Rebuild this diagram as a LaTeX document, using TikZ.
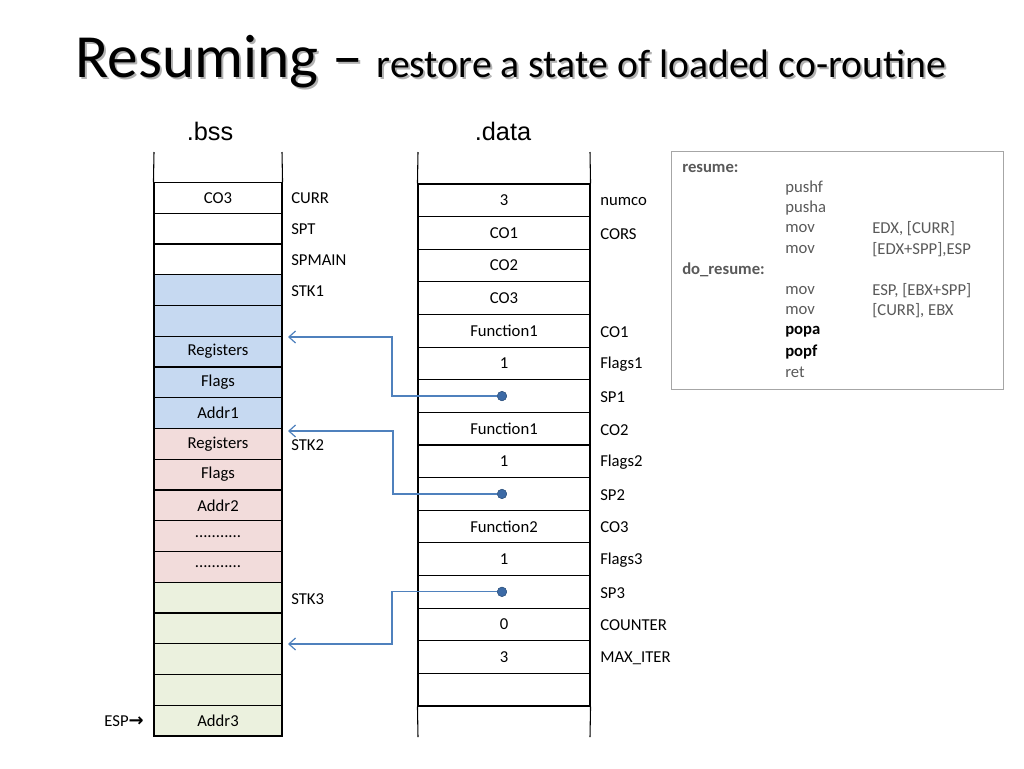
\documentclass[tikz,border=0pt]{standalone}
\usepackage{fontspec}
\setmainfont{Carlito}
\newfontfamily\arialf{Liberation Sans}
\newfontfamily\symf{DejaVu Sans}
\usetikzlibrary{arrows.meta}
\definecolor{bluefill}{HTML}{C6D9F1}
\definecolor{pinkfill}{HTML}{F2DCDB}
\definecolor{greenfill}{HTML}{EBF1DE}
\definecolor{connc}{HTML}{4F81BD}
\definecolor{dotc}{HTML}{3C6AA6}
\definecolor{codegray}{HTML}{595959}
\definecolor{boxborder}{HTML}{A6A6A6}
\begin{document}
\begin{tikzpicture}[x=0.75pt,y=-0.75pt,
  font=\fontsize{12.5}{15}\selectfont,
  bcell/.style={draw=black, line width=0.8pt, minimum width=96pt, minimum height=23.06pt, inner sep=0pt, anchor=center},
  dcell/.style={draw=black, line width=0.8pt, minimum width=129pt, minimum height=24.47pt, inner sep=0pt, anchor=center},
  colline/.style={draw=black, line width=0.8pt},
  lab/.style={anchor=west, inner sep=0pt},
  code/.style={anchor=west, inner sep=0pt, text=codegray},
  codelab/.style={anchor=west, inner sep=0pt, text=codegray, font=\fontsize{12.5}{15}\selectfont\bfseries},
  conn/.style={draw=connc, line width=0.9pt, -{Straight Barb[length=5pt,width=9pt]}},
  spdot/.style={circle, fill=dotc, draw=connc!70!black, line width=0.4pt, minimum size=7pt, inner sep=0pt},
  head/.style={anchor=base, inner sep=0pt, font=\arialf\fontsize{19}{22}\selectfont}]
\useasboundingbox (0,0) rectangle (1024,768);

% Title with shadow
\node[anchor=base west, inner sep=0pt, text=gray!60] at (77,79) {\fontsize{46}{50}\selectfont Resuming \textendash\ \fontsize{29.8}{32}\selectfont restore a state of loaded co-routine};
\node (title) [anchor=base west, inner sep=0pt] at (75,77) {\fontsize{46}{50}\selectfont Resuming \textendash\ \fontsize{29.8}{32}\selectfont restore a state of loaded co-routine};

% column headings
\node (bsshead) [head] at (210,140) {.bss};
\node (datahead) [head] at (503,140) {.data};

% .bss column
\foreach \t/\f [count=\i] in {CO3/white, {}/white, {}/white, {}/bluefill, {}/bluefill, Registers/bluefill, Flags/bluefill, Addr1/bluefill, Registers/pinkfill, Flags/pinkfill, Addr2/pinkfill, {...........}/pinkfill, {...........}/pinkfill, {}/greenfill, {}/greenfill, {}/greenfill, {}/greenfill, Addr3/greenfill}
  \node (b\i) [bcell, fill=\f] at (218,{167.125+30.75*\i}) {\t};
\coordinate (btl) at (154,152);
\coordinate (btr) at (282,152);
\draw[colline] (btl) -- (b1.north west);
\draw[colline] (btr) -- (b1.north east);

% .bss labels
\node (lcurr) [lab] at (291,198) {CURR};
\node (lspt) [lab] at (291,229) {SPT};
\node (lspmain) [lab] at (291,260) {SPMAIN};
\node (lstk1) [lab] at (291,291) {STK1};
\node (lstk2) [lab] at (291,445) {STK2};
\node (lstk3) [lab] at (291,599) {STK3};
\node (esp) [anchor=east, inner sep=0pt] at (144,721) {ESP{\symf\bfseries\fontsize{13.5}{14}\selectfont →}};

% .data column
\foreach \t [count=\i] in {3, CO1, CO2, CO3, Function1, 1, {}, Function1, 1, {}, Function2, 1, {}, 0, 3, {}}
  \node (d\i) [dcell] at (504,{167.6875+32.625*\i}) {\t};
\coordinate (dtl) at (418,152);
\coordinate (dtr) at (590,152);
\coordinate (dbl) at (418,737);
\coordinate (dbr) at (590,737);
\draw[colline] (dtl) -- (d1.north west);
\draw[colline] (dtr) -- (d1.north east);
\draw[colline] (dbl) -- (d16.south west);
\draw[colline] (dbr) -- (d16.south east);

% .data labels
\foreach \t [count=\i] in {numco, CORS, {}, {}, CO1, Flags1, SP1, CO2, Flags2, SP2, CO3, Flags3, SP3, COUNTER, MAX\_ITER}
  \node (dl\i) [lab] at (600,{167.6875+32.625*\i+1}) {\t};

% pointers
\node (sp1dot) [spdot] at ([xshift=-1.5pt]d7.center) {};
\node (sp2dot) [spdot] at ([xshift=-1.5pt]d10.center) {};
\node (sp3dot) [spdot] at ([xshift=-1.5pt]d13.center) {};
\coordinate (k1) at (392,337);
\coordinate (k2) at (393,431);
\coordinate (k3) at (392,644);
\coordinate (t1) at (288,337);
\coordinate (t2) at (288,431);
\coordinate (t3) at (288,644);
\draw[conn] (sp1dot.center) -| (k1) -- (t1);
\draw[conn] (sp2dot.center) -| (k2) -- (t2);
\draw[conn] (sp3dot.center) -| (k3) -- (t3);
\node [spdot] at (sp1dot) {};
\node [spdot] at (sp2dot) {};
\node [spdot] at (sp3dot) {};

% code box
\node (codebox) [draw=boxborder, line width=0.6pt, minimum width=249pt, minimum height=178.5pt, inner sep=0pt, anchor=north west] at (671,151) {};
\node (c1) [codelab] at (682,168) {resume:};
\node (c2) [code] at (785,188) {pushf};
\node (c3) [code] at (785,208.5) {pusha};
\node (c4) [code] at (785,229) {mov};
\node (c4b) [code] at (872,229) {EDX, [CURR]};
\node (c5) [code] at (785,249.5) {mov};
\node (c5b) [code] at (872,249.5) {[EDX+SPP],ESP};
\node (c6) [codelab] at (682,270) {do\_resume:};
\node (c7) [code] at (785,290.5) {mov};
\node (c7b) [code] at (872,290.5) {ESP, [EBX+SPP]};
\node (c8) [code] at (785,311) {mov};
\node (c8b) [code] at (872,311) {[CURR], EBX};
\node (c9) [code, text=black, font=\fontsize{12.5}{15}\selectfont\bfseries] at (785,331.5) {popa};
\node (c10) [code, text=black, font=\fontsize{12.5}{15}\selectfont\bfseries] at (785,352) {popf};
\node (c11) [code] at (785,372.5) {ret};
\end{tikzpicture}
\end{document}
